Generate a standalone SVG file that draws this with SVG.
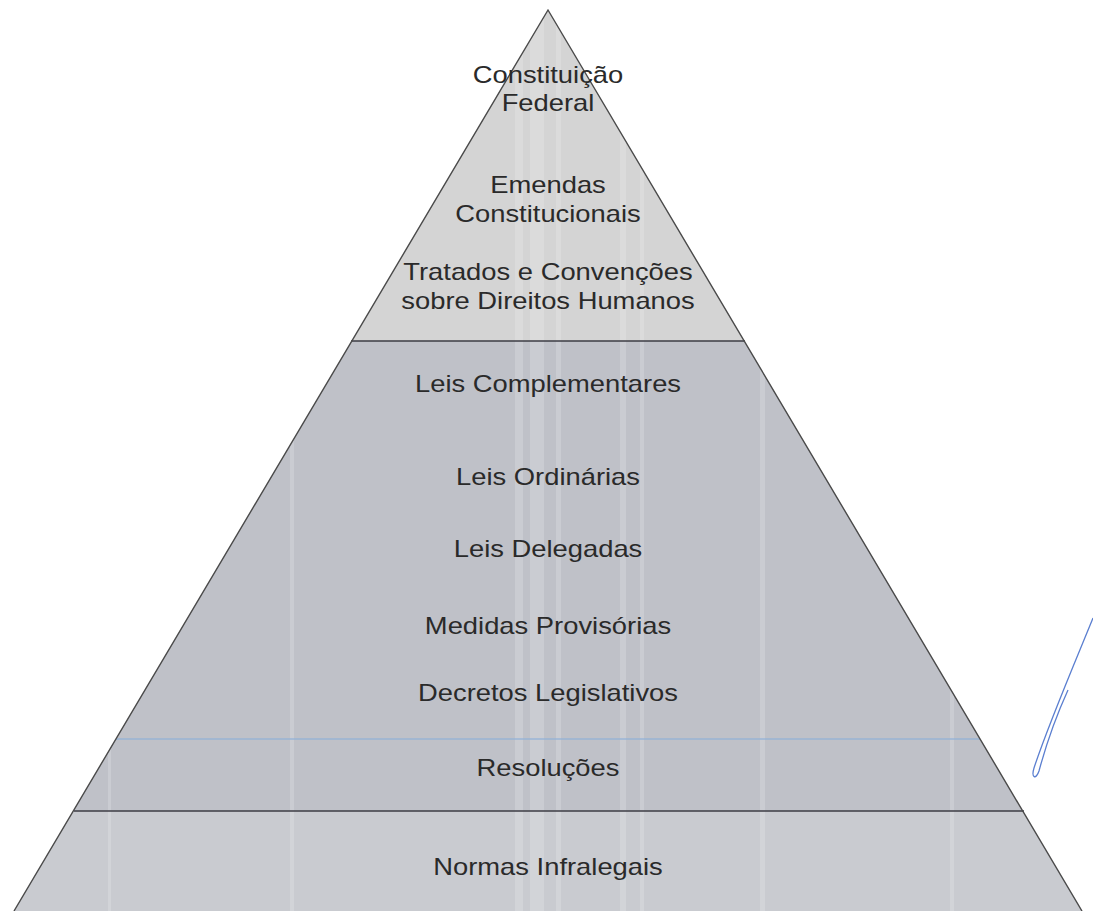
<svg xmlns="http://www.w3.org/2000/svg" width="1093" height="911" viewBox="0 0 1093 911">
<style>
.lbl{font-family:"Liberation Sans",Arial,sans-serif;font-size:23px;fill:#2a2a2a;text-anchor:middle}
.edge{fill:none;stroke:#4a4a4a;stroke-width:1.4}
.div{stroke:#3c3c44;stroke-width:1.4}
.streak{fill:#ffffff;opacity:0.18}
</style>
<defs>
<clipPath id="tri"><polygon points="548,10 1082,911 14,911"/></clipPath>
</defs>
<rect width="1093" height="911" fill="#ffffff"/>
<g id="pyramid" clip-path="url(#tri)">
<rect x="0" y="0" width="1093" height="341" fill="#d4d4d4"/>
<rect x="0" y="341" width="1093" height="470" fill="#bfc1c8"/>
<rect x="0" y="811" width="1093" height="100" fill="#c9cbd0"/>
<rect class="streak" x="515" y="0" width="8" height="911"/>
<rect class="streak" x="530" y="0" width="14" height="911"/>
<rect class="streak" x="556" y="0" width="5" height="911"/>
<rect class="streak" x="620" y="0" width="6" height="911"/>
<rect class="streak" x="640" y="0" width="4" height="911"/>
<rect class="streak" x="290" y="0" width="4" height="911"/>
<rect class="streak" x="760" y="0" width="5" height="911"/>
<rect class="streak" x="108" y="0" width="3" height="911"/>
<rect class="streak" x="950" y="0" width="4" height="911"/>
</g>
<g id="connectors">
<line class="div" x1="351" y1="341" x2="745" y2="341"/>
<line x1="116" y1="739" x2="980" y2="739" stroke="#8fb0d8" stroke-width="1.5" opacity="0.8"/>
<line class="div" x1="74" y1="811" x2="1024" y2="811"/>
<polyline class="edge" points="14,911 548,10 1082,911"/>
</g>
<g transform="translate(548,0) scale(1.19,1)">
<g id="n1"><text class="lbl" x="0" y="83">Constituição</text><text class="lbl" x="0" y="111">Federal</text></g>
<g id="n2"><text class="lbl" x="0" y="193">Emendas</text><text class="lbl" x="0" y="222">Constitucionais</text></g>
<g id="n3"><text class="lbl" x="0" y="280">Tratados e Convenções</text><text class="lbl" x="0" y="309">sobre Direitos Humanos</text></g>
<g id="n4"><text class="lbl" x="0" y="392">Leis Complementares</text></g>
<g id="n5"><text class="lbl" x="0" y="485">Leis Ordinárias</text></g>
<g id="n6"><text class="lbl" x="0" y="557">Leis Delegadas</text></g>
<g id="n7"><text class="lbl" x="0" y="634">Medidas Provisórias</text></g>
<g id="n8"><text class="lbl" x="0" y="701">Decretos Legislativos</text></g>
<g id="n9"><text class="lbl" x="0" y="776">Resoluções</text></g>
<g id="n10"><text class="lbl" x="0" y="875">Normas Infralegais</text></g>
</g>
<path id="signature" d="M1093,618 C1078,655 1048,725 1034,768 C1031,778 1036,780 1039,771 C1046,745 1058,712 1068,690" fill="none" stroke="#5b7fd0" stroke-width="1.3"/>
</svg>
